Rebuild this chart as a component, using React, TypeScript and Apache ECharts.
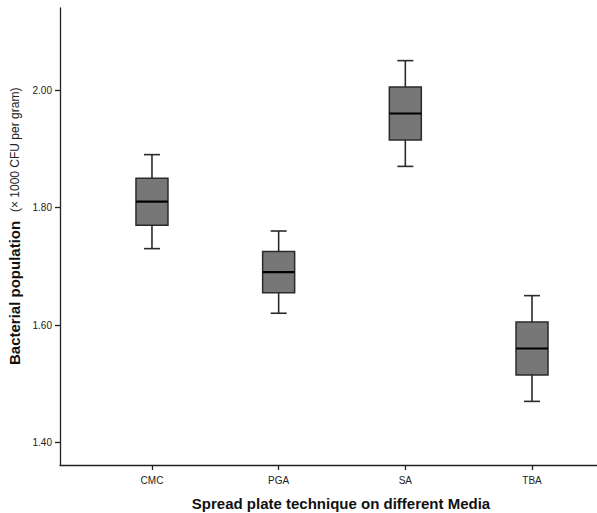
import React, { useEffect, useRef } from "react";
import * as echarts from "echarts";

const categories = ["CMC", "PGA", "SA", "TBA"];
const mins = [1.73, 1.62, 1.87, 1.47];
const q1s = [1.77, 1.655, 1.915, 1.515];
const medians = [1.81, 1.69, 1.96, 1.56];
const q3s = [1.85, 1.725, 2.005, 1.605];
const maxes = [1.89, 1.76, 2.05, 1.65];
const yTicks = [1.4, 1.6, 1.8, 2.0];
const xPositions = [1, 2, 3, 4];

const FONT = "Liberation Sans, Arial, Helvetica, sans-serif";

export default function App() {
  const ref = useRef<HTMLDivElement>(null);
  useEffect(() => {
    if (!ref.current) return;
    const chart = echarts.init(ref.current, undefined, { renderer: "svg" });
    const data = categories.map((_, i) => [
      xPositions[i],
      mins[i],
      q1s[i],
      medians[i],
      q3s[i],
      maxes[i],
    ]);
    const stroke = "#2b2b2b";
    chart.setOption({
      animation: false,
      backgroundColor: "#ffffff",
      grid: { left: 60, right: 0, top: 8, bottom: 48, containLabel: false },
      xAxis: {
        type: "value",
        min: 0.274,
        max: 4.513,
        splitLine: { show: false },
        axisLine: { show: true, lineStyle: { color: "#222", width: 1.3 } },
        axisTick: {
          show: true,
          length: 5,
          customValues: xPositions,
          lineStyle: { color: "#222", width: 1.3 },
        },
        axisLabel: {
          customValues: xPositions,
          formatter: (v: number) => categories[Math.round(v) - 1] ?? "",
          fontFamily: FONT,
          fontSize: 10,
          color: "#222",
          margin: 10,
        },
      },
      yAxis: {
        type: "value",
        min: 1.3617,
        max: 2.1396,
        splitLine: { show: false },
        axisLine: { show: true, lineStyle: { color: "#222", width: 1.3 } },
        axisTick: {
          show: true,
          length: 5,
          customValues: yTicks,
          lineStyle: { color: "#222", width: 1.3 },
        },
        axisLabel: {
          customValues: yTicks,
          formatter: (v: number) => v.toFixed(2),
          fontFamily: FONT,
          fontSize: 10,
          color: "#222",
          margin: 8,
        },
      },
      series: [
        {
          type: "custom",
          data,
          encode: { x: 0, y: [1, 2, 3, 4, 5] },
          renderItem: (params: any, api: any) => {
            const x = api.value(0);
            const pMin = api.coord([x, api.value(1)]);
            const pQ1 = api.coord([x, api.value(2)]);
            const pMed = api.coord([x, api.value(3)]);
            const pQ3 = api.coord([x, api.value(4)]);
            const pMax = api.coord([x, api.value(5)]);
            const cx = pMed[0];
            const hw = 16;
            const cw = 8;
            const ls = { stroke, lineWidth: 1.6 };
            return {
              type: "group",
              children: [
                { type: "line", shape: { x1: cx, y1: pMax[1], x2: cx, y2: pQ3[1] }, style: ls },
                { type: "line", shape: { x1: cx, y1: pQ1[1], x2: cx, y2: pMin[1] }, style: ls },
                { type: "line", shape: { x1: cx - cw, y1: pMax[1], x2: cx + cw, y2: pMax[1] }, style: ls },
                { type: "line", shape: { x1: cx - cw, y1: pMin[1], x2: cx + cw, y2: pMin[1] }, style: ls },
                {
                  type: "rect",
                  shape: { x: cx - hw, y: pQ3[1], width: hw * 2, height: pQ1[1] - pQ3[1] },
                  style: { fill: "#777777", stroke, lineWidth: 1.5 },
                },
                {
                  type: "line",
                  shape: { x1: cx - hw, y1: pMed[1], x2: cx + hw, y2: pMed[1] },
                  style: { stroke: "#000", lineWidth: 2.2 },
                },
              ],
            };
          },
        },
      ],
      graphic: [
        {
          type: "text",
          x: 22,
          y: 365,
          rotation: Math.PI / 2,
          style: {
            text: "Bacterial population",
            align: "left",
            verticalAlign: "bottom",
            fontFamily: FONT,
            fontSize: 15,
            fontWeight: "bold",
            fill: "#111",
          },
        },
        {
          type: "text",
          x: 21,
          y: 212,
          rotation: Math.PI / 2,
          style: {
            text: "(× 1000 CFU per gram)",
            align: "left",
            verticalAlign: "bottom",
            fontFamily: FONT,
            fontSize: 12,
            fill: "#222",
          },
        },
        {
          type: "text",
          x: 341,
          y: 503,
          style: {
            text: "Spread plate technique on different Media",
            align: "center",
            verticalAlign: "middle",
            fontFamily: FONT,
            fontSize: 15,
            fontWeight: "bold",
            fill: "#111",
          },
        },
      ],
    });
    return () => chart.dispose();
  }, []);
  return (
    <div
      ref={ref}
      style={{ position: "fixed", left: 0, top: 0, width: 597, height: 513 }}
    />
  );
}
